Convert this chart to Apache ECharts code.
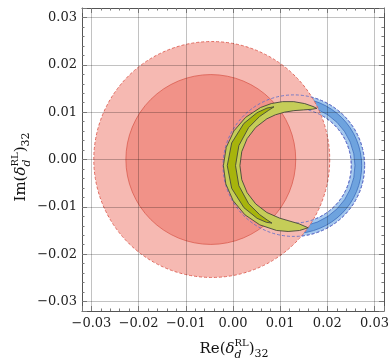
<!DOCTYPE html>
<html>
<head>
<meta charset="utf-8">
<script src="https://cdn.jsdelivr.net/npm/echarts@6/dist/echarts.min.js"></script>
<style>
html,body{margin:0;padding:0;background:#fff;}
#chart{width:392px;height:364px;}
</style>
</head>
<body>
<div id="chart"></div>
<script>
// ---- data ----
const X_TICKS = [-0.03, -0.02, -0.01, 0.00, 0.01, 0.02, 0.03];
const X_TICK_LABELS = ['\u22120.03', '\u22120.02', '\u22120.01', '0.00', '0.01', '0.02', '0.03'];
const Y_TICKS = [-0.03, -0.02, -0.01, 0.00, 0.01, 0.02, 0.03];
const Y_TICK_LABELS = ['\u22120.03', '\u22120.02', '\u22120.01', '0.00', '0.01', '0.02', '0.03'];
const AXIS_MIN = -0.032;
const AXIS_MAX = 0.032;

// red allowed regions (outer light disc, inner darker disc): centre x, centre y, radius
const redCenterX = [-0.0045, -0.0047];
const redCenterY = [0.0000, 0.0000];
const redRadius = [0.0250, 0.0180];

// blue ring: centre and radii (outer light edge, dark band outer, dark band inner, inner light edge)
const blueCenter = [0.0129, -0.0013];
const blueRadii = [0.0150, 0.01438, 0.01295, 0.01217];

// crescents, described around a common centre: polar angle (deg), outer and inner radius
const crescentCenter = [0.0129, -0.0013];
const yellowAngles = [68, 72, 80, 90, 100, 110, 120, 135, 150, 165, 180, 195, 210, 225, 240, 255, 265, 275, 283];
const yellowOuterR = [0.01305, 0.01314, 0.01331, 0.01352, 0.01373, 0.01396, 0.01417, 0.01444, 0.01467, 0.01484, 0.01493,
                      0.01493, 0.01484, 0.01467, 0.01444, 0.01417, 0.01396, 0.01375, 0.01347];
const yellowInnerR = [0.01305, 0.01253, 0.01196, 0.01162, 0.01147, 0.01143, 0.01143, 0.01143, 0.01143, 0.01143, 0.01143,
                      0.01143, 0.01143, 0.01143, 0.01143, 0.01149, 0.01171, 0.01232, 0.01347];
const oliveAngles = [108.7, 115, 125, 140, 160, 180, 200, 220, 235, 244, 249.1];
const oliveOuterR = [0.01312, 0.01343, 0.01364, 0.01385, 0.01402, 0.01411, 0.01402, 0.01381, 0.01358, 0.01331, 0.01299];
const oliveInnerR = [0.01312, 0.01284, 0.01267, 0.01251, 0.01240, 0.01236, 0.01240, 0.01251, 0.01263, 0.01280, 0.01299];

// ---- helpers ----
function tickLabel(ticks, labels) {
  return function (v) {
    for (let i = 0; i < ticks.length; i++) {
      if (Math.abs(ticks[i] - v) < 1e-7) return labels[i];
    }
    return '';
  };
}

function polarCrescent(api, center, angles, outer, inner) {
  const pts = [];
  const rad = Math.PI / 180;
  for (let i = 0; i < angles.length; i++) {
    const a = angles[i] * rad;
    pts.push(api.coord([center[0] + outer[i] * Math.cos(a), center[1] + outer[i] * Math.sin(a)]));
  }
  for (let i = angles.length - 2; i >= 1; i--) {
    const a = angles[i] * rad;
    pts.push(api.coord([center[0] + inner[i] * Math.cos(a), center[1] + inner[i] * Math.sin(a)]));
  }
  return pts;
}

const SERIF = '"DejaVu Serif", serif';

function buildTitle(parts, cx, cy, rotation) {
  const cv = document.createElement('canvas').getContext('2d');
  const children = [];
  let x = 0;
  parts.forEach(function (p) {
    const items = Array.isArray(p) ? p : [p];
    let adv = 0;
    items.forEach(function (q) {
      const font = (q.italic ? 'italic ' : '') + q.size + 'px ' + SERIF;
      cv.font = font;
      const w = cv.measureText(q.t).width;
      adv = Math.max(adv, w);
      children.push({
        type: 'text',
        x: x, y: q.dy || 0,
        style: {
          text: q.t, font: font, fill: '#111',
          textAlign: 'left', textVerticalAlign: 'middle',
          align: 'left', verticalAlign: 'middle'
        }
      });
    });
    x += adv;
  });
  children.forEach(function (c) { c.x -= x / 2; });
  return { type: 'group', x: cx, y: cy, rotation: rotation || 0, children: children, silent: true };
}

const xTitleParts = [
  { t: 'Re(', size: 15 },
  { t: '\u03b4', size: 15, italic: true },
  [{ t: 'RL', size: 10, dy: -6 }, { t: 'd', size: 11, italic: true, dy: 6 }],
  { t: ')', size: 15 },
  { t: '32', size: 11, dy: 5 }
];
const yTitleParts = [
  { t: 'Im(', size: 15 },
  { t: '\u03b4', size: 15, italic: true },
  [{ t: 'RL', size: 10, dy: -6 }, { t: 'd', size: 11, italic: true, dy: 6 }],
  { t: ')', size: 15 },
  { t: '32', size: 11, dy: 5 }
];

// ---- chart ----
const chart = echarts.init(document.getElementById('chart'), null, { renderer: 'canvas' });

const GRID_COLOR = 'rgba(0,0,0,0.24)';
const FRAME_COLOR = '#555';
const TICK_COLOR = '#777';

function makeAxis(kind, position, ticks, labels, primary) {
  return {
    type: 'value',
    position: position,
    min: AXIS_MIN, max: AXIS_MAX,
    minInterval: 0.01, maxInterval: 0.01,
    splitNumber: 6,
    z: 10,
    axisLine: { show: true, onZero: false, lineStyle: { color: FRAME_COLOR, width: 1 } },
    axisTick: { show: true, inside: true, length: 5, lineStyle: { color: TICK_COLOR } },
    minorTick: { show: true, splitNumber: 5, length: 2.5, lineStyle: { color: TICK_COLOR } },
    splitLine: { show: primary, lineStyle: { color: GRID_COLOR, width: 1 } },
    minorSplitLine: { show: false },
    axisLabel: {
      show: primary,
      formatter: tickLabel(ticks, labels),
      fontFamily: SERIF, fontSize: 13, color: '#222',
      margin: kind === 'x' ? 6 : 5,
      showMinLabel: true, showMaxLabel: true
    }
  };
}

const circleData = redCenterX.map(function (x, i) { return [x, redCenterY[i], redRadius[i]]; });
const redStyles = [
  { fill: '#f6b9b2', stroke: 'rgba(222,100,88,0.95)', lineWidth: 1, lineDash: [3, 2] },
  { fill: 'rgba(235,100,85,0.45)', stroke: 'rgba(215,85,72,0.9)', lineWidth: 0.8 }
];

function ringElements(api, withFill) {
  const c = api.coord([api.value(0), api.value(1)]);
  const r = [api.size([api.value(2), 0])[0], api.size([api.value(3), 0])[0],
             api.size([api.value(4), 0])[0], api.size([api.value(5), 0])[0]];
  const els = [];
  if (withFill) {
    els.push({ type: 'ring', shape: { cx: c[0], cy: c[1], r: r[0], r0: r[3] },
      style: { fill: 'rgba(80,150,222,0.52)', stroke: null } });
    els.push({ type: 'ring', shape: { cx: c[0], cy: c[1], r: r[1], r0: r[2] },
      style: { fill: 'rgba(55,125,205,0.5)', stroke: null } });
    els.push({ type: 'circle', shape: { cx: c[0], cy: c[1], r: r[1] },
      style: { fill: null, stroke: 'rgba(50,100,185,0.9)', lineWidth: 0.8 } });
    els.push({ type: 'circle', shape: { cx: c[0], cy: c[1], r: r[2] },
      style: { fill: null, stroke: 'rgba(50,100,185,0.9)', lineWidth: 0.8 } });
  }
  els.push({ type: 'circle', shape: { cx: c[0], cy: c[1], r: r[0] },
    style: { fill: null, stroke: 'rgba(95,110,200,0.85)', lineWidth: 1, lineDash: [3, 2] } });
  els.push({ type: 'circle', shape: { cx: c[0], cy: c[1], r: r[3] },
    style: { fill: null, stroke: 'rgba(95,110,200,0.85)', lineWidth: 1, lineDash: [3, 2] } });
  return { type: 'group', children: els };
}

const ringData = [[blueCenter[0], blueCenter[1]].concat(blueRadii)];

const option = {
  animation: false,
  backgroundColor: '#fff',
  grid: { left: 82, right: 6, top: 8, bottom: 53, containLabel: false },
  xAxis: [
    makeAxis('x', 'bottom', X_TICKS, X_TICK_LABELS, true),
    makeAxis('x', 'top', X_TICKS, X_TICK_LABELS, false)
  ],
  yAxis: [
    makeAxis('y', 'left', Y_TICKS, Y_TICK_LABELS, true),
    makeAxis('y', 'right', Y_TICKS, Y_TICK_LABELS, false)
  ],
  graphic: [
    buildTitle(xTitleParts, 234, 349, 0),
    buildTitle(yTitleParts, 21, 167, Math.PI / 2)
  ],
  series: [
    {
      name: 'blue ring', type: 'custom', z: 2, clip: true,
      encode: { x: 0, y: 1 },
      data: ringData,
      renderItem: function (params, api) { return ringElements(api, true); }
    },
    {
      name: 'red regions', type: 'custom', z: 3, clip: true,
      encode: { x: 0, y: 1 },
      data: circleData,
      renderItem: function (params, api) {
        const c = api.coord([api.value(0), api.value(1)]);
        const r = api.size([api.value(2), 0])[0];
        return { type: 'circle', shape: { cx: c[0], cy: c[1], r: r }, style: redStyles[params.dataIndex] };
      }
    },
    {
      name: 'blue ring edges', type: 'custom', z: 4, clip: true,
      encode: { x: 0, y: 1 },
      data: ringData,
      renderItem: function (params, api) { return ringElements(api, false); }
    },
    {
      name: 'yellow crescent', type: 'custom', z: 11, clip: true,
      encode: { x: 0, y: 1 },
      data: [crescentCenter],
      renderItem: function (params, api) {
        const c = [api.value(0), api.value(1)];
        return { type: 'polygon', shape: { points: polarCrescent(api, c, yellowAngles, yellowOuterR, yellowInnerR) },
          style: { fill: '#c5cd58', stroke: '#45473a', lineWidth: 0.9, lineJoin: 'round' } };
      }
    },
    {
      name: 'olive crescent', type: 'custom', z: 12, clip: true,
      encode: { x: 0, y: 1 },
      data: [crescentCenter],
      renderItem: function (params, api) {
        const c = [api.value(0), api.value(1)];
        return { type: 'polygon', shape: { points: polarCrescent(api, c, oliveAngles, oliveOuterR, oliveInnerR) },
          style: { fill: '#a7b40c', stroke: '#45473a', lineWidth: 0.9, lineJoin: 'round' } };
      }
    }
  ]
};

chart.setOption(option);
</script>
</body>
</html>
